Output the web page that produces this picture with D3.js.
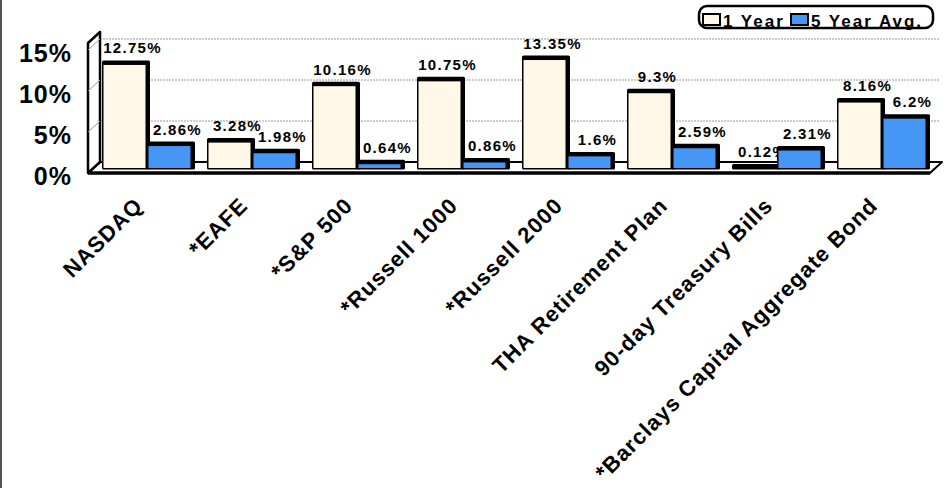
<!DOCTYPE html>
<html>
<head>
<meta charset="utf-8">
<script src="https://cdn.jsdelivr.net/npm/d3@7"></script>
<style>
  body { margin: 0; background: #fff; }
  svg { display: block; font-family: "Liberation Sans", Arial, sans-serif; font-weight: bold; }
</style>
</head>
<body>
<script>
var categories = ["NASDAQ", "*EAFE", "*S&P 500", "*Russell 1000", "*Russell 2000",
                  "THA Retirement Plan", "90-day Treasury Bills", "*Barclays Capital Aggregate Bond"];
var oneYear = [12.75, 3.28, 10.16, 10.75, 13.35, 9.3, 0.12, 8.16];
var fiveYear = [2.86, 1.98, 0.64, 0.86, 1.6, 2.59, 2.31, 6.2];
var seriesNames = ["1 Year", "5 Year Avg."];
var yTicks = [0, 5, 10, 15];

var width = 949, height = 488;
var colors = ["#fff8e6", "#4596f5"];

// pseudo 3d: back plane, bars at mid depth, front edge
var backBase = 162, depthX = -12, depthY = 11;
var backLeft = 100, backRight = 942;
var wallTop = 15.85;

var h = d3.scaleLinear().domain([0, 15]).range([0, 123]);

var x0 = d3.scaleBand()
    .domain(categories)
    .range([94.5, 934.5])
    .paddingInner(0.143)
    .paddingOuter(0.0714);

var x1 = d3.scaleBand()
    .domain(seriesNames)
    .range([0, x0.bandwidth()]);

var svg = d3.select("body").append("svg")
    .attr("width", width)
    .attr("height", height);

svg.append("rect").attr("x", 0).attr("y", 0).attr("width", 2).attr("height", height).attr("fill", "#555");

// floor
var fb = backBase, ff = backBase + depthY;
svg.append("path")
    .attr("d", "M" + (backLeft + depthX) + "," + ff + "L" + backLeft + "," + fb + "L" + backRight + "," + fb +
               "L" + (backRight + depthX) + "," + ff + "Z")
    .attr("fill", "#fff").attr("stroke", "#000").attr("stroke-width", 2).attr("stroke-linejoin", "round");
svg.append("line")
    .attr("x1", backLeft + depthX).attr("x2", backRight + depthX)
    .attr("y1", ff).attr("y2", ff)
    .attr("stroke", "#000").attr("stroke-width", 3.5);

// gridlines on back wall
svg.append("g").selectAll("line")
  .data(yTicks.filter(function(d) { return d > 0; }))
  .enter().append("line")
    .attr("x1", backLeft).attr("x2", backRight - 2)
    .attr("y1", function(d) { return backBase - h(d); })
    .attr("y2", function(d) { return backBase - h(d); })
    .attr("stroke", "#999").attr("stroke-width", 1).attr("stroke-dasharray", "2,1");

// left wall
svg.append("path")
    .attr("d", "M" + (backLeft + depthX) + "," + ff + "L" + backLeft + "," + fb +
               "L" + backLeft + "," + (backBase - h(wallTop)) +
               "L" + (backLeft + depthX) + "," + (backBase - h(wallTop) + depthY) + "Z")
    .attr("fill", "#fff").attr("stroke", "#000").attr("stroke-width", 2.5).attr("stroke-linejoin", "round");
svg.append("g").selectAll("line")
  .data(yTicks.filter(function(d) { return d > 0; }))
  .enter().append("line")
    .attr("x1", backLeft + depthX).attr("x2", backLeft)
    .attr("y1", function(d) { return backBase - h(d) + depthY; })
    .attr("y2", function(d) { return backBase - h(d); })
    .attr("stroke", "#999").attr("stroke-width", 1);

// y labels on the front plane
svg.append("g").selectAll("text")
  .data(yTicks)
  .enter().append("text")
    .attr("x", 72)
    .attr("y", function(d) { return backBase - h(d) + depthY + 12; })
    .attr("text-anchor", "end")
    .attr("font-size", 25)
    .attr("letter-spacing", 1)
    .text(function(d) { return d + "%"; });

// bars at mid depth
var midBase = backBase + depthY / 2 + 0.5;
var bars = svg.append("g");
categories.forEach(function(c, i) {
  [oneYear[i], fiveYear[i]].forEach(function(v, s) {
    var x = x0(c) + x1(seriesNames[s]), w = x1.bandwidth();
    var top = midBase - h(v);
    bars.append("rect")
        .attr("x", x).attr("y", top - 3)
        .attr("width", w + 3).attr("height", midBase - top + 4.5)
        .attr("rx", 1.5)
        .attr("fill", "#000");
    if (v > 0.5) {
      bars.append("rect")
          .attr("x", x + 1.5).attr("y", top + 1.5)
          .attr("width", w - 3).attr("height", midBase - top - 1.5)
          .attr("fill", colors[s]);
    }
    bars.append("text")
        .attr("x", x + w / 2 + 8)
        .attr("y", top - 10)
        .attr("text-anchor", "middle")
        .attr("font-size", 15)
        .attr("letter-spacing", 1.3)
        .text(v + "%");
  });
});

// category labels
svg.append("g").selectAll("text")
  .data(categories)
  .enter().append("text")
    .attr("transform", function(d) {
      return "translate(" + (x0(d) + x0.bandwidth() / 2 - 3) + ",207) rotate(-45)";
    })
    .attr("text-anchor", "end")
    .attr("font-size", 22)
    .attr("letter-spacing", 1)
    .text(function(d) { return d; });

// legend
var legend = svg.append("g");
legend.append("rect")
    .attr("x", 699).attr("y", 6).attr("width", 234).attr("height", 22).attr("rx", 8)
    .attr("fill", "#fff").attr("stroke", "#000").attr("stroke-width", 2.5);
var legendItems = [{x: 703, tx: 723}, {x: 791, tx: 811}];
seriesNames.forEach(function(name, s) {
  legend.append("rect")
      .attr("x", legendItems[s].x).attr("y", 14)
      .attr("width", 17).attr("height", 11)
      .attr("fill", colors[s]).attr("stroke", "#000").attr("stroke-width", 2);
  legend.append("text")
      .attr("x", legendItems[s].tx).attr("y", 26.5)
      .attr("font-size", 17)
      .attr("letter-spacing", 2)
      .text(name);
});
</script>
</body>
</html>
